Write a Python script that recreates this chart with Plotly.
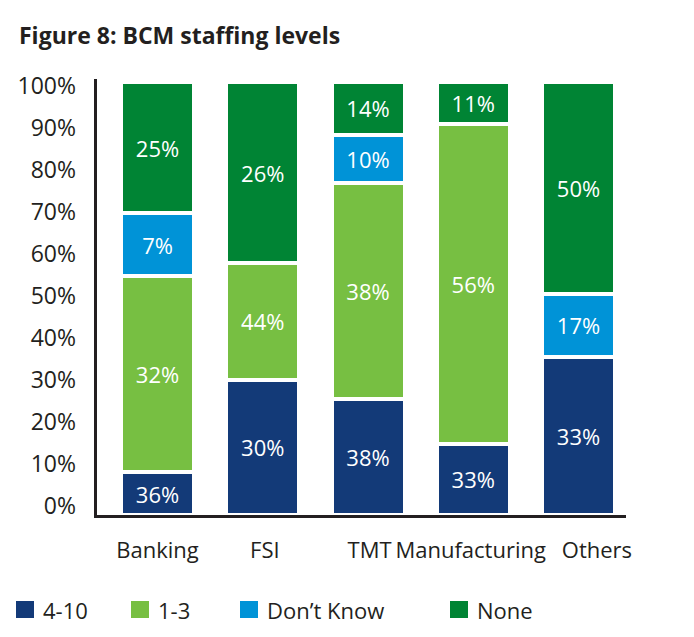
import plotly.graph_objects as go

# ---------------- data ----------------
categories = ["Banking", "FSI", "TMT", "Manufacturing", "Others"]
series_names = ["4-10", "1-3", "Don’t Know", "None"]

# segment heights as drawn in the figure (% of bar)
h_4_10 = [9.9, 31.2, 26.9, 16.4, 36.5]
h_1_3 = [45.3, 27.0, 49.8, 73.8, 0]
h_dont_know = [14.5, 0, 11.1, 0, 14.6]
h_none = [30.3, 41.8, 12.2, 9.8, 48.9]

# labels printed inside the segments
lab_4_10 = ["36%", "30%", "38%", "33%", "33%"]
lab_1_3 = ["32%", "44%", "38%", "56%", ""]
lab_dont_know = ["7%", "", "10%", "", "17%"]
lab_none = ["25%", "26%", "14%", "11%", "50%"]

y_tick_vals = [0, 10, 20, 30, 40, 50, 60, 70, 80, 90, 100]
y_tick_text = ["0%", "10%", "20%", "30%", "40%", "50%", "60%", "70%", "80%", "90%", "100%"]

# ---------------- style ----------------
colors = ["#133A78", "#77BF42", "#0093D7", "#008434"]
FONT = "Open Sans"
TXT = "#231F20"
W, H = 694, 637
L, R, T, B = 97, 68, 79, 122
PW, PH = W - L - R, H - T - B
# small horizontal nudges of the category labels (in category units)
cat_label_nudge = [0.0, 0.02, 0.015, -0.025, 0.175]


def px_x(px):
    return (px - L) / PW


def px_y(py):
    return (H - B - py) / PH


heights = [h_4_10, h_1_3, h_dont_know, h_none]
labels = [lab_4_10, lab_1_3, lab_dont_know, lab_none]
x_pos = list(range(len(categories)))

fig = go.Figure()
for name, hs, labs, col in zip(series_names, heights, labels, colors):
    fig.add_trace(go.Bar(
        x=x_pos, y=hs, name=name, text=labs,
        textposition="inside", insidetextanchor="middle",
        textangle=0, constraintext="none",
        textfont=dict(family=FONT, size=22, color="white"),
        marker=dict(color=col, line=dict(color="white", width=4)),
        width=0.694, showlegend=False, hoverinfo="skip",
    ))

# empty trace so the percent tick-label axis (y2) is rendered
fig.add_trace(go.Scatter(x=[], y=[], yaxis="y2", showlegend=False, hoverinfo="skip"))

# manual legend
legend_left_px = [16, 131, 240, 450]
for name, col, lx in zip(series_names, colors, legend_left_px):
    fig.add_shape(type="rect", xref="paper", yref="paper",
                  x0=px_x(lx), x1=px_x(lx + 18), y0=px_y(618), y1=px_y(601),
                  fillcolor=col, line=dict(width=0))
    fig.add_annotation(xref="paper", yref="paper", x=px_x(lx + 25), y=px_y(609.5),
                       text=name, showarrow=False, xanchor="left", yanchor="middle",
                       font=dict(family=FONT, size=22, color=TXT))

fig.update_layout(
    width=W, height=H,
    margin=dict(l=L, r=R, t=T, b=B, pad=0, autoexpand=False),
    paper_bgcolor="white", plot_bgcolor="white",
    barmode="stack",
    showlegend=False,
    font=dict(family=FONT, color=TXT),
    title=dict(text="<b>Figure 8: BCM staffing levels</b>",
               xref="container", yref="container",
               x=19 / W, xanchor="left", y=1 - 36 / H, yanchor="middle",
               font=dict(family=FONT, size=23, color=TXT)),
    xaxis=dict(range=[-0.575, 4.451],
               tickmode="array",
               tickvals=[p + n for p, n in zip(x_pos, cat_label_nudge)],
               ticktext=categories,
               showline=True, linewidth=3, linecolor=TXT,
               showgrid=False, zeroline=False, ticks="",
               tickangle=0, automargin=False,
               ticklabelstandoff=14,
               tickfont=dict(family=FONT, size=22, color=TXT)),
    yaxis=dict(range=[0, 100.7], showticklabels=False,
               showline=True, linewidth=3, linecolor=TXT,
               showgrid=False, zeroline=False, ticks="", automargin=False),
    yaxis2=dict(overlaying="y", side="left", anchor="x",
                range=[-2.14, 101.67], tickmode="array",
                tickvals=y_tick_vals, ticktext=y_tick_text,
                showline=False, showgrid=False, zeroline=False, ticks="",
                ticklabelstandoff=20, automargin=False,
                tickfont=dict(family=FONT, size=23, color=TXT)),
)

fig.write_html("out.html",
               config={"displayModeBar": False},
               post_script="document.body.style.margin='0px';"
                           "document.body.style.overflow='hidden';")
